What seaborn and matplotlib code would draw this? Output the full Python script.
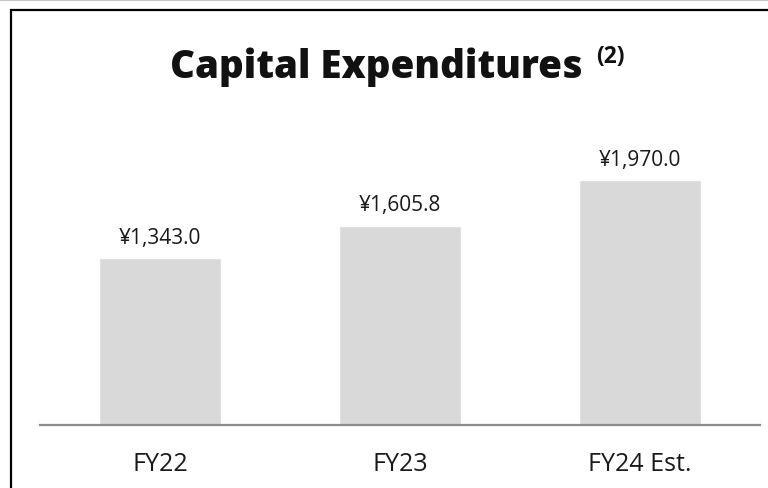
import matplotlib
matplotlib.use("Agg")
import matplotlib.pyplot as plt
import seaborn as sns
import pandas as pd
from matplotlib.patches import Rectangle
from matplotlib.lines import Line2D

# data
categories = ['FY22', 'FY23', 'FY24 Est.']
capex = [1343.0, 1605.8, 1970.0]
value_labels = ['¥1,343.0', '¥1,605.8', '¥1,970.0']

sns.set_theme(style='white')
plt.rcParams['font.family'] = ['Open Sans', 'DejaVu Sans']

df = pd.DataFrame({'Period': categories, 'Capex': capex})

W, H = 768, 489
fig = plt.figure(figsize=(W / 100, H / 100), dpi=100)
ax = fig.add_axes([40 / W, 63 / H, 720 / W, 298 / H])

sns.barplot(data=df, x='Period', y='Capex', color='#d9d9d9', width=0.51,
            saturation=1, ax=ax)
ax.set_xlim(-0.5, 2.5)
ax.set_ylim(0, 2400)

for i, (v, lab) in enumerate(zip(capex, value_labels)):
    ax.annotate(lab, (i, v), xytext=(0, 11), textcoords='offset points',
                ha='center', va='baseline', fontsize=15, color='#1a1a1a')

for s in ['top', 'left', 'right']:
    ax.spines[s].set_visible(False)
ax.spines['bottom'].set_color('#8c8c8c')
ax.spines['bottom'].set_linewidth(1.6)
ax.set_yticks([])
ax.set_xlabel('')
ax.set_ylabel('')
ax.tick_params(axis='x', length=0, pad=19, labelsize=18, labelcolor='#1a1a1a')

# title with superscript
fig.text(170 / W, 1 - 78 / H, 'Capital Expenditures', ha='left', va='baseline',
         fontsize=27.7, fontweight='heavy', color='#111111')
fig.text(596 / W, 1 - 63 / H, '(2)', ha='left', va='baseline',
         fontsize=16.5, fontweight='bold', color='#111111')

# frame: gray rule at top, black border cropped at right/bottom
fig.add_artist(Line2D([0, 1], [1 - 1 / H, 1 - 1 / H], transform=fig.transFigure,
                      color='#c8c8c8', lw=1.5))
fig.add_artist(Rectangle((11 / W, -0.1), 1.2, (H - 11) / H + 0.1,
                         transform=fig.transFigure, fill=False, lw=1.6,
                         ec='black'))

fig.savefig('out.png', dpi=100)
